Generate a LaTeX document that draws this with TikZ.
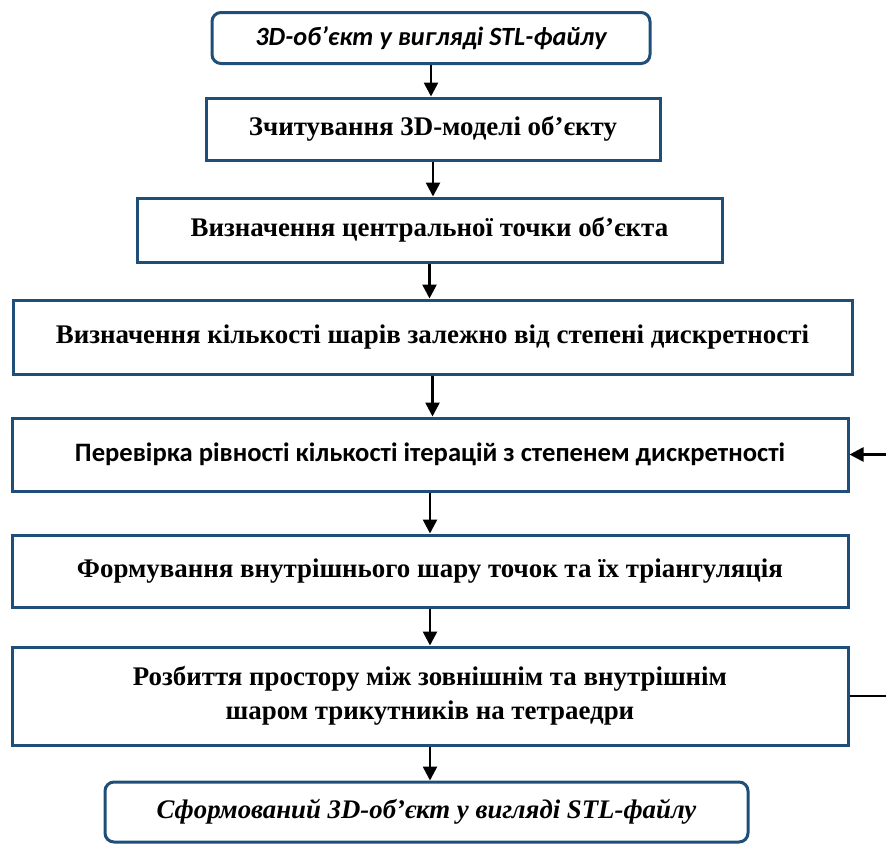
\documentclass[tikz,border=0pt]{standalone}
\usepackage{fontspec}
\setmainfont{Liberation Serif}
\newfontfamily\calibri{Carlito}
\usetikzlibrary{arrows.meta, calc, positioning}
\definecolor{boxblue}{RGB}{31,78,121}

\begin{document}
\begin{tikzpicture}[x=1pt, y=-1pt,
    every node/.style={font=\fontsize{26.9}{34}\selectfont\bfseries},
    procbox/.style={draw=boxblue, line width=3pt, inner sep=0pt, align=center},
    endbox/.style={procbox, rounded corners=9pt},
    flow/.style={-{Triangle[width=14pt, length=14pt]}, line width=2.6pt}]
  \useasboundingbox (0,0) rectangle (886,844);
  % start and end
  \node[endbox, minimum width=438, minimum height=51,
        font=\calibri\fontsize{26.3}{30}\selectfont\bfseries\itshape]
    (obj) at (431,38) {3D-об’єкт у вигляді STL-файлу};
  \node[endbox, minimum width=643, minimum height=60,
        font=\fontsize{26.8}{30}\selectfont\bfseries\itshape]
    (res) at (426.5,812) {Сформований 3D-об’єкт у вигляді STL-файлу};
  % steps
  \node[procbox, minimum width=454, minimum height=62] (read) at (433,129)
    {Зчитування 3D-моделі об’єкту};
  \node[procbox, minimum width=585, minimum height=64] (centre) at (429.5,230)
    {Визначення центральної точки об’єкта};
  \node[procbox, minimum width=839, minimum height=74] (layers) at (432.5,337)
    {Визначення кількості шарів залежно від степені дискретності};
  \node[procbox, minimum width=836, minimum height=73,
        font=\calibri\fontsize{26.6}{30}\selectfont\bfseries] (check) at (430,454.5)
    {Перевірка рівності кількості ітерацій з степенем дискретності};
  \node[procbox, minimum width=836, minimum height=72] (inner) at (430,571)
    {Формування внутрішнього шару точок та їх тріангуляція};
  \node[procbox, minimum width=836, minimum height=98] (split) at (430,696)
    {Розбиття простору між зовнішнім та внутрішнім\\шаром трикутників на тетраедри};
  % arrows
  \foreach \a/\b in {obj/read, read/centre, centre/layers, layers/check,
                     check/inner, inner/split, split/res}
    \draw[flow] (\a.south) -- (\a.south |- \b.north);
  % loop back
  \coordinate (loopin) at (886,454.5);
  \coordinate (loopout) at (886,696);
  \draw[flow] (loopin) -- (check.east);
  \draw[line width=2.6pt] (split.east) -- (loopout);
\end{tikzpicture}
\end{document}
